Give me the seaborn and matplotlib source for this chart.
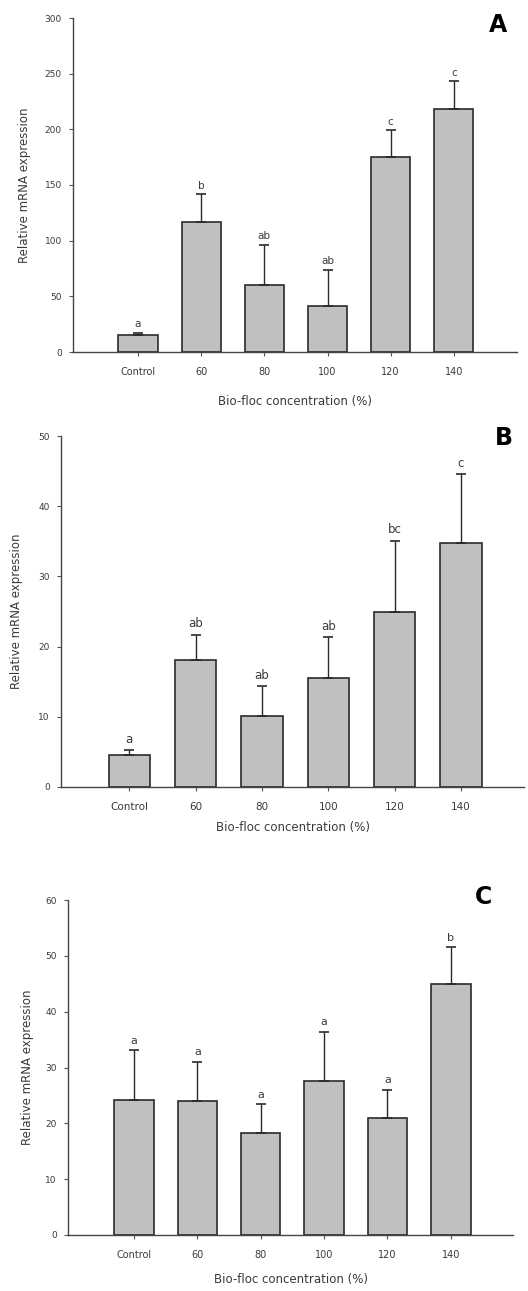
import matplotlib
matplotlib.use("Agg")
import matplotlib.pyplot as plt
import seaborn as sns
import numpy as np
import pandas as pd

categories = ["Control", "60", "80", "100", "120", "140"]

a_mean = [15, 117, 60, 41, 175.5, 218.5]
a_top = [17.5, 141.5, 96.5, 74, 199.5, 243.5]
a_letters = ["a", "b", "ab", "ab", "c", "c"]

b_mean = [4.6, 18.1, 10.1, 15.5, 24.9, 34.8]
b_top = [5.3, 21.7, 14.4, 21.4, 35.1, 44.6]
b_letters = ["a", "ab", "ab", "ab", "bc", "c"]

c_mean = [24.2, 24.0, 18.3, 27.5, 21.0, 44.9]
c_top = [33.1, 31.0, 23.4, 36.4, 26.0, 51.5]
c_letters = ["a", "a", "a", "a", "a", "b"]

y_ticks_a = [0, 50, 100, 150, 200, 250, 300]
y_ticks_b = [0, 10, 20, 30, 40, 50]
y_ticks_c = [0, 10, 20, 30, 40, 50, 60]

xlabel = "Bio-floc concentration (%)"
ylabel = "Relative mRNA expression"

sns.set_theme(style="ticks")
plt.rcParams["font.family"] = ["DejaVu Sans"]

W, H = 528, 1291
fig = plt.figure(figsize=(W / 100, H / 100), dpi=100)

TXT = "#3a3a3a"

def px_axes(l, r, top, bot):
    return [l / W, 1 - bot / H, (r - l) / W, (bot - top) / H]

panels = [
    dict(rect=px_axes(73, 517, 18, 352), mean=a_mean, top=a_top, letters=a_letters,
         yticks=y_ticks_a, ymax=300, xlim=(-1.03, 6.0), letter="A", lpos=(498, 25),
         ylab_x=25, xlab_y=401, off=3, fs=7, lfs=7.5),
    dict(rect=px_axes(61, 524, 436, 787), mean=b_mean, top=b_top, letters=b_letters,
         yticks=y_ticks_b, ymax=50, xlim=(-1.03, 5.95), letter="B", lpos=(504, 438),
         ylab_x=17, xlab_y=827, off=0.6, fs=7.5, lfs=8.5),
    dict(rect=px_axes(68, 513, 900, 1235), mean=c_mean, top=c_top, letters=c_letters,
         yticks=y_ticks_c, ymax=60, xlim=(-1.04, 5.98), letter="C", lpos=(484, 897),
         ylab_x=28, xlab_y=1280, off=0.8, fs=7, lfs=8),
]

for p in panels:
    ax = fig.add_axes(p["rect"])
    df = pd.DataFrame({"cat": categories, "val": p["mean"]})
    sns.barplot(data=df, x="cat", y="val", order=categories, color="#c0c0c0",
                saturation=1, width=0.62, edgecolor="#2a2a2a", linewidth=1.2,
                errorbar=None, ax=ax)
    xs = np.arange(len(categories))
    m = np.array(p["mean"])
    t = np.array(p["top"])
    ax.errorbar(xs, m, yerr=[np.zeros_like(m), t - m], fmt="none",
                ecolor="#2a2a2a", elinewidth=1.0, capsize=3.5, capthick=1.2, zorder=3)
    for x, tt, lab in zip(xs, t, p["letters"]):
        ax.text(x, tt + p["off"], lab, ha="center", va="bottom", fontsize=p["lfs"], color=TXT)
    ax.set_ylim(0, p["ymax"])
    ax.set_xlim(*p["xlim"])
    ax.set_yticks(p["yticks"])
    ax.set_yticklabels([str(v) for v in p["yticks"]], fontsize=6.5, color=TXT)
    ax.set_xticks(xs)
    ax.set_xticklabels(categories, fontsize=p["fs"], color=TXT)
    ax.set_xlabel("")
    ax.set_ylabel("")
    for s in ["top", "right"]:
        ax.spines[s].set_visible(False)
    for s in ["left", "bottom"]:
        ax.spines[s].set_color("#444444")
        ax.spines[s].set_linewidth(1.0)
    ax.tick_params(axis="both", direction="out", length=3, width=0.8, color="#555555", pad=5)
    ax.tick_params(axis="x", pad=8)
    ax.patch.set_alpha(0)
    cx = (p["rect"][0] + p["rect"][2] / 2)
    cy = p["rect"][1] + p["rect"][3] / 2
    fig.text(p["ylab_x"] / W, cy, ylabel, rotation=90, ha="center", va="center",
             fontsize=8.5, color=TXT)
    fig.text(cx, 1 - p["xlab_y"] / H, xlabel, ha="center", va="center",
             fontsize=8.5, color=TXT)
    fig.text(p["lpos"][0] / W, 1 - p["lpos"][1] / H, p["letter"], ha="center",
             va="center", fontsize=17, fontweight="bold", color="black")

fig.savefig("out.png", dpi=100)
